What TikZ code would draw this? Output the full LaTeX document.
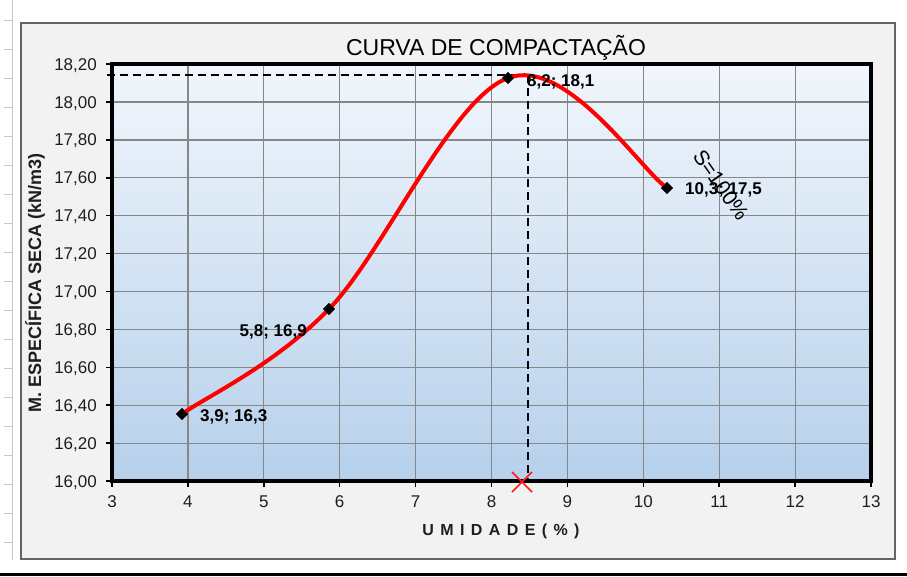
\documentclass[tikz,border=0pt]{standalone}
\usepackage{fontspec}
\setmainfont{Liberation Sans}
\usetikzlibrary{shapes.geometric}
\definecolor{framefill}{RGB}{242,242,242}
\definecolor{frameline}{RGB}{100,100,100}
\definecolor{gridgray}{RGB}{135,135,135}
\definecolor{plottop}{RGB}{241,246,252}
\definecolor{plotbot}{RGB}{182,208,235}
\definecolor{ticktext}{RGB}{30,30,30}
\definecolor{sheetline}{RGB}{200,200,200}
\begin{document}
\begin{tikzpicture}[x=1pt,y=-1pt,
  ticklbl/.style={font=\fontsize{17}{17}\selectfont, text=ticktext, inner sep=0pt},
  datalbl/.style={font=\fontsize{17}{17}\selectfont\bfseries, text=black, inner sep=0pt},
  ptmark/.style={diamond, fill=black, draw=none, minimum size=12pt, inner sep=0pt},
  redcurve/.style={draw=red, line width=4pt, line cap=round},
  gridline/.style={draw=gridgray, line width=1.2pt},
  dashline/.style={draw=black, line width=1.2pt, dash pattern=on 8pt off 5pt}]
\useasboundingbox (0,0) rectangle (907,576);
\fill[white] (0,0) rectangle (907,576);
% spreadsheet strip at left
\draw[sheetline, line width=0.8pt] (12,0) -- (12,560);
\foreach \yy in {20,49,78,107,136,165,194,223,252,281,310,339,368,397,426,455,484,513,542} {
  \draw[sheetline, line width=0.8pt] (4,\yy) -- (12,\yy);
}
% bottom black bar
\fill[black] (0,573) rectangle (907,576);
% chart frame
\draw[fill=framefill, draw=frameline, line width=1.3pt] (21,23) rectangle (895,559);
% plot area
\shade[top color=plottop, bottom color=plotbot] (112,64) rectangle (871,481);
% grid
\foreach \xx in {187.9,263.8,339.7,415.6,491.5,567.4,643.3,719.2,795.1} {
  \draw[gridline] (\xx,64) -- (\xx,481);
}
\foreach \yy in {443.1,405.2,367.3,329.4,291.5,253.6,215.7,177.8,139.9,102} {
  \draw[gridline] (112,\yy) -- (871,\yy);
}
% ticks
\foreach \yy in {481,443.1,405.2,367.3,329.4,291.5,253.6,215.7,177.8,139.9,102,64.1} {
  \draw[black, line width=1.5pt] (106,\yy) -- (112,\yy);
}
\foreach \xx in {112,187.9,263.8,339.7,415.6,491.5,567.4,643.3,719.2,795.1,871} {
  \draw[black, line width=1.5pt] (\xx,481) -- (\xx,487);
}
% plot border
\draw[black, line width=4pt] (112,64) rectangle (871,481);
% tick labels
\foreach \yy/\lab [count=\i] in {481/{16,00},443.1/{16,20},405.2/{16,40},367.3/{16,60},329.4/{16,80},291.5/{17,00},253.6/{17,20},215.7/{17,40},177.8/{17,60},139.9/{17,80},102/{18,00},64.1/{18,20}} {
  \node[ticklbl, anchor=base east] (ylab\i) at (97,\yy+6) {\lab};
}
\foreach \xx/\lab [count=\i] in {112/3,187.9/4,263.8/5,339.7/6,415.6/7,491.5/8,567.4/9,643.3/10,719.2/11,795.1/12,871/13} {
  \node[ticklbl, anchor=base] (xlab\i) at (\xx,507) {\lab};
}
% titles
\node[font=\fontsize{23}{23}\selectfont, anchor=base, inner sep=0pt] (title) at (496,55) {CURVA DE COMPACTAÇÃO};
\node[font=\fontsize{16}{16}\selectfont\bfseries, anchor=base, inner sep=0pt, text=ticktext] (xtitle) at (501,535)
  {U\hspace{0.4em}M\hspace{0.4em}I\hspace{0.4em}D\hspace{0.4em}A\hspace{0.4em}D\hspace{0.4em}E\hspace{0.4em}(\hspace{0.4em}\%\hspace{0.4em})};
\node[font=\fontsize{18}{18}\selectfont\bfseries, rotate=90, inner sep=0pt, text=ticktext] (ytitle) at (35,283) {M. ESPECÍFICA SECA (kN/m3)};
% dashed guide lines
\coordinate (peak) at (528,75);
\coordinate (dashleft) at (107,75);
\coordinate (dashbot) at (528,481);
\draw[dashline] (dashleft) -- (peak);
\draw[dashline] (peak) -- (dashbot);
% data points
\node[ptmark] (p1) at (182,414) {};
\node[ptmark] (p2) at (329,309) {};
\node[ptmark] (p3) at (508,78) {};
\node[ptmark] (p4) at (667,188) {};
% smooth red curve
\draw[redcurve] (p1.center) .. controls (206.5,396.5) and (274.7,365) .. (p2.center)
  .. controls (383.3,253) and (451.7,98.2) .. (p3.center)
  .. controls (566,56) and (640.5,169.7) .. (p4.center);
\node[ptmark] at (p1) {};
\node[ptmark] at (p2) {};
\node[ptmark] at (p3) {};
\node[ptmark] at (p4) {};
% data labels
\node[datalbl, anchor=base west] (l1) at (200,421) {3,9; 16,3};
\node[datalbl, anchor=base east] (l2) at (307,336) {5,8; 16,9};
\node[datalbl, anchor=base west] (l3) at (527,86) {8,2; 18,1};
\node[datalbl, anchor=base west] (l4) at (685,194) {10,3; 17,5};
% saturation label
\node[font=\fontsize{21}{21}\selectfont, rotate=-55, inner sep=0pt] (s100) at (721,185) {S=100\%};
% red X marker
\coordinate (xm) at (522,482);
\draw[red!90!white, line width=1.5pt] ([shift={(-10,-10)}]xm) -- ([shift={(10,10)}]xm);
\draw[red!90!white, line width=1.5pt] ([shift={(-10,10)}]xm) -- ([shift={(10,-10)}]xm);
\end{tikzpicture}
\end{document}
